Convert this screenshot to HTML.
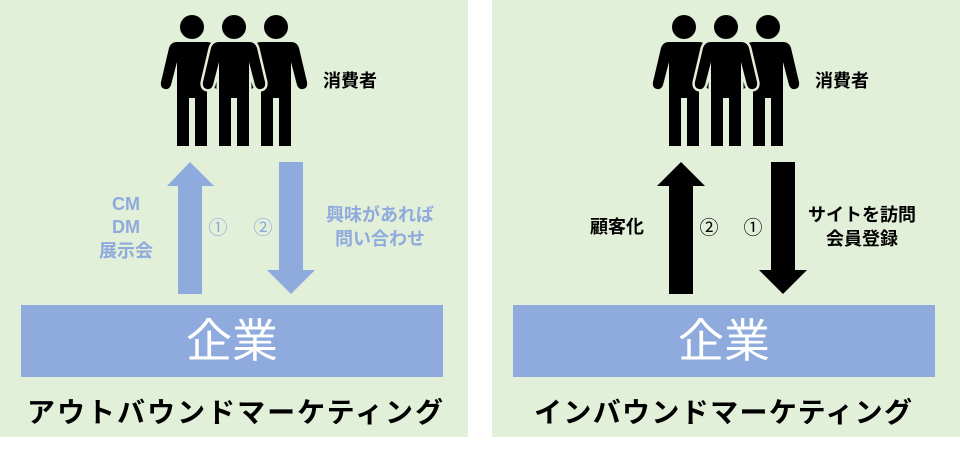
<!DOCTYPE html>
<html><head><meta charset="utf-8"><style>
body{margin:0;background:#fff}
svg text{font-family:"Liberation Sans","Noto Sans CJK JP",sans-serif}
</style></head><body>
<svg width="960" height="452" viewBox="0 0 960 452" xmlns="http://www.w3.org/2000/svg">
<defs>
<g id="fig">
  <circle cx="0" cy="27" r="12"/>
  <path d="M-15,42 L15,42 Q21,42 23,48 L31,82 Q32,88 27,89 Q23,90 21,85 L15,62 L15,146 L3,146 L3,98 L-3,98 L-3,146 L-15,146 L-15,62 L-21,85 Q-23,90 -27,89 Q-32,88 -31,82 L-23,48 Q-21,42 -15,42 Z"/>
</g>
<g id="people">
  <use href="#fig" x="192"/>
  <use href="#fig" x="276"/>
  <use href="#fig" x="234" stroke="#e2efd9" stroke-width="5"/>
  <use href="#fig" x="234"/>
</g>
</defs>
<rect x="0" y="0" width="468" height="437" fill="#e2efd9"/>
<rect x="492" y="0" width="468" height="437" fill="#e2efd9"/>

<use href="#people"/>
<text x="323" y="87" font-size="18" font-weight="bold">消費者</text>
<polygon points="190,162 214,186 202,186 202,294 178,294 178,186 167,186" fill="#8faadc"/>
<polygon points="279,162 303,162 303,270 315,270 291,294 267,270 279,270" fill="#8faadc"/>
<g fill="#8faadc" font-size="18" font-weight="bold" text-anchor="middle">
<text x="126" y="210">CM</text>
<text x="126" y="233">DM</text>
<text x="126" y="257">展示会</text>
<text x="380" y="221">興味があれば</text>
<text x="380" y="245">問い合わせ</text>
</g>
<g fill="#8faadc" font-size="19" text-anchor="middle">
<text x="218" y="234">①</text>
<text x="263" y="234">②</text>
</g>
<rect x="21" y="305" width="422" height="72" fill="#8faadc"/>
<text x="232" y="357" font-size="46" fill="#fff" text-anchor="middle">企業</text>
<text x="27" y="422" font-size="28" font-weight="bold" textLength="416" lengthAdjust="spacing" fill="#000">アウトバウンドマーケティング</text>

<use href="#people" x="492"/>
<text x="815" y="87" font-size="18" font-weight="bold">消費者</text>
<polygon points="681,162 705,186 693,186 693,294 669,294 669,186 657,186" fill="#000"/>
<polygon points="771,162 795,162 795,270 807,270 783,294 759,270 771,270" fill="#000"/>
<g font-size="18" font-weight="bold" text-anchor="middle">
<text x="617" y="233">顧客化</text>
<text x="862" y="221">サイトを訪問</text>
<text x="862" y="245">会員登録</text>
</g>
<g font-size="19" text-anchor="middle">
<text x="709" y="234">②</text>
<text x="753" y="234">①</text>
</g>
<rect x="513" y="305" width="422" height="72" fill="#8faadc"/>
<text x="724" y="357" font-size="46" fill="#fff" text-anchor="middle">企業</text>
<text x="534" y="422" font-size="28" font-weight="bold" textLength="378" lengthAdjust="spacing">インバウンドマーケティング</text>
</svg>
</body></html>
